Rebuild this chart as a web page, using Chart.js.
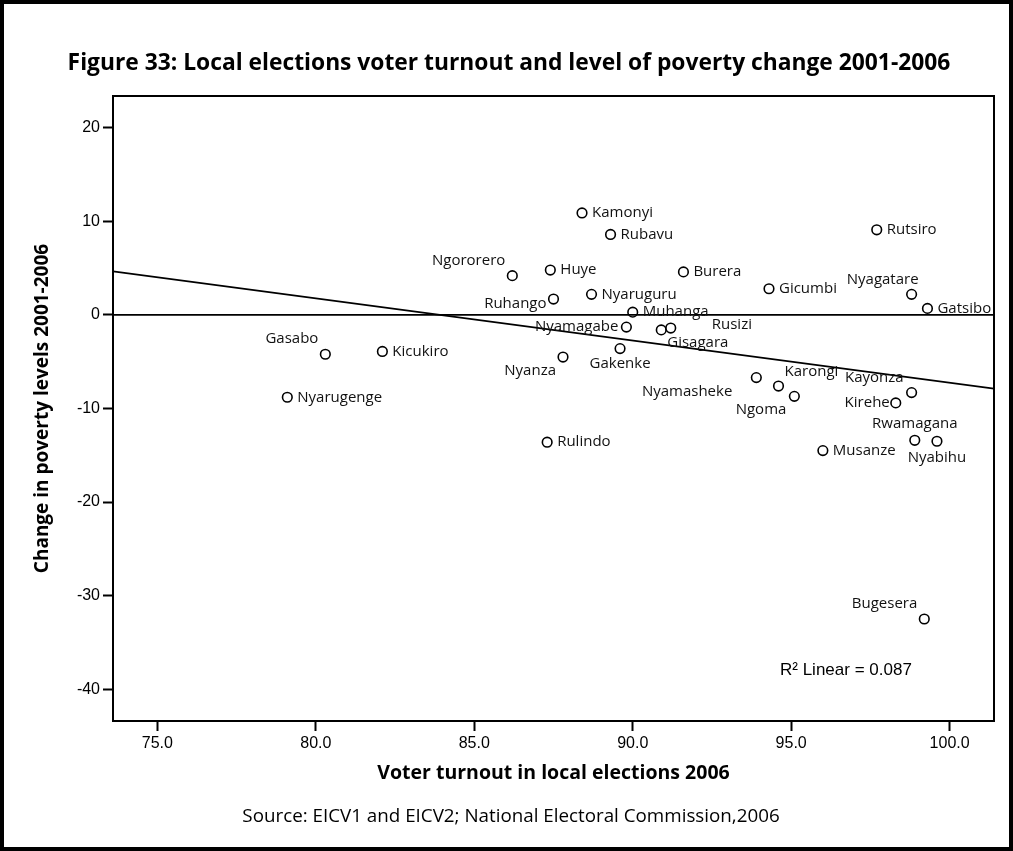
<!DOCTYPE html>
<html lang="en">
<head>
<meta charset="UTF-8" />
<title>Voter turnout and poverty change 2001-2006</title>
<script src="https://cdn.jsdelivr.net/npm/chart.js"></script>
<style>
  html, body { margin: 0; padding: 0; background: #fff; }
  #wrap { width: 1013px; height: 851px; }
</style>
</head>
<body>
<div id="wrap"><canvas id="scatter" width="1013" height="851"></canvas></div>

<script>
  // --- data ---
  const districts = [
    "Gasabo", "Kicukiro", "Nyarugenge", "Kamonyi", "Rubavu", "Ngororero",
    "Huye", "Burera", "Ruhango", "Nyaruguru", "Muhanga", "Nyamagabe",
    "Gisagara", "Rusizi", "Gakenke", "Nyanza", "Nyamasheke", "Ngoma",
    "Rutsiro", "Gicumbi", "Nyagatare", "Gatsibo", "Karongi", "Kayonza",
    "Kirehe", "Rwamagana", "Nyabihu", "Musanze", "Rulindo", "Bugesera"
  ];
  const turnout = [
    80.3, 82.1, 79.1, 88.4, 89.3, 86.2,
    87.4, 91.6, 87.5, 88.7, 90.0, 89.8,
    90.9, 91.2, 89.6, 87.8, 93.9, 95.1,
    97.7, 94.3, 98.8, 99.3, 94.6, 98.8,
    98.3, 98.9, 99.6, 96.0, 87.3, 99.2
  ];
  const povertyChange = [
    -4.2, -3.9, -8.8, 10.9, 8.6, 4.2,
    4.8, 4.6, 1.7, 2.2, 0.3, -1.3,
    -1.6, -1.4, -3.6, -4.5, -6.7, -8.7,
    9.1, 2.8, 2.2, 0.7, -7.6, -8.3,
    -9.4, -13.4, -13.5, -14.5, -13.6, -32.5
  ];
  const xTicks = [75, 80, 85, 90, 95, 100];
  const yTicks = [-40, -30, -20, -10, 0, 10, 20];
  const rSquaredText = "R\u00b2 Linear = 0.087";

  const X_MIN = 73.6, X_MAX = 101.4;
  const Y_MIN = -43.4, Y_MAX = 23.4;

  // where each name sits next to its marker: [dx, dy, align]; default is to the right
  const labelPlace = {
    Gasabo: [-7, -15, "right"],
    Ngororero: [-7, -15, "right"],
    Ruhango: [-7, 5, "right"],
    Nyamagabe: [-8, 0, "right"],
    Gisagara: [6, 13, "left"],
    Rusizi: [41, -3, "left"],
    Gakenke: [0, 15, "center"],
    Nyanza: [-7, 14, "right"],
    Nyamasheke: [-24, 14, "right"],
    Ngoma: [-8, 13, "right"],
    Nyagatare: [7, -15, "right"],
    Karongi: [6, -14, "left"],
    Kayonza: [-8, -15, "right"],
    Kirehe: [-6, 0, "right"],
    Rwamagana: [0, -17, "center"],
    Nyabihu: [0, 16, "center"],
    Bugesera: [-7, -15, "right"]
  };

  // least squares line through the points
  function linearFit(xs, ys) {
    const n = xs.length;
    const mx = xs.reduce((a, b) => a + b, 0) / n;
    const my = ys.reduce((a, b) => a + b, 0) / n;
    let sxy = 0, sxx = 0;
    for (let i = 0; i < n; i++) {
      sxy += (xs[i] - mx) * (ys[i] - my);
      sxx += (xs[i] - mx) * (xs[i] - mx);
    }
    const slope = sxy / sxx;
    return { slope: slope, intercept: my - slope * mx };
  }
  const fit = linearFit(turnout, povertyChange);

  const points = turnout.map((x, i) => ({ x: x, y: povertyChange[i] }));

  const SANS = "'Open Sans', 'DejaVu Sans', sans-serif";
  const ARIAL = "'Liberation Sans', Arial, sans-serif";

  // labels, box, frame and free texts
  const decorations = {
    id: "decorations",
    afterDatasetsDraw(chart) {
      const ctx = chart.ctx;
      const meta = chart.getDatasetMeta(2);
      ctx.save();
      ctx.font = "15px " + SANS;
      ctx.fillStyle = "#111";
      ctx.textBaseline = "middle";
      meta.data.forEach((pt, i) => {
        const name = districts[i];
        const p = labelPlace[name] || [10, 0, "left"];
        ctx.textAlign = p[2];
        ctx.fillText(name, pt.x + p[0], pt.y + p[1]);
      });
      ctx.restore();
    },
    afterDraw(chart) {
      const { ctx, chartArea: a } = chart;
      ctx.save();
      ctx.strokeStyle = "#000";
      ctx.lineWidth = 2;
      ctx.strokeRect(a.left, a.top, a.right - a.left, a.bottom - a.top);
      ctx.lineWidth = 4;
      ctx.strokeRect(2, 2, chart.width - 4, chart.height - 4);

      ctx.fillStyle = "#000";
      ctx.textBaseline = "middle";
      ctx.textAlign = "center";
      ctx.font = "bold 22.8px " + SANS;
      ctx.fillText("Figure 33: Local elections voter turnout and level of poverty change 2001-2006", 509, 64);

      ctx.font = "18.8px " + SANS;
      ctx.fillText("Source: EICV1 and EICV2; National Electoral Commission,2006", 511, 817);

      ctx.textAlign = "left";
      ctx.font = "17px " + ARIAL;
      ctx.fillText(rSquaredText, a.right - 214, a.bottom - 51);
      ctx.restore();
    }
  };

  new Chart(document.getElementById("scatter"), {
    type: "scatter",
    data: {
      datasets: [
        {
          type: "line",
          data: [
            { x: X_MIN, y: fit.intercept + fit.slope * X_MIN },
            { x: X_MAX, y: fit.intercept + fit.slope * X_MAX }
          ],
          borderColor: "#000",
          borderWidth: 1.6,
          pointRadius: 0,
          showLine: true
        },
        {
          type: "line",
          data: [{ x: X_MIN, y: 0 }, { x: X_MAX, y: 0 }],
          borderColor: "#000",
          borderWidth: 1.8,
          pointRadius: 0,
          showLine: true
        },
        {
          data: points,
          pointStyle: "circle",
          pointRadius: 4.8,
          pointBorderWidth: 1.6,
          pointBackgroundColor: "#fff",
          pointBorderColor: "#000"
        }
      ]
    },
    options: {
      responsive: false,
      animation: false,
      devicePixelRatio: 1,
      layout: { padding: { top: 96, right: 19, bottom: 50, left: 0 } },
      plugins: {
        legend: { display: false },
        tooltip: { enabled: false }
      },
      scales: {
        x: {
          type: "linear",
          min: X_MIN,
          max: X_MAX,
          afterBuildTicks: (s) => { s.ticks = xTicks.map((v) => ({ value: v })); },
          afterFit: (s) => { s.height = 80; },
          ticks: {
            color: "#000",
            padding: 3,
            font: { family: ARIAL, size: 16 },
            callback: (v) => Number(v).toFixed(1)
          },
          grid: { drawOnChartArea: false, tickLength: 10, tickWidth: 2, tickColor: "#000" },
          border: { color: "#000", width: 2 },
          title: {
            display: true,
            text: "Voter turnout in local elections 2006",
            color: "#000",
            font: { family: SANS, size: 19.5, weight: "bold" },
            padding: { top: 0, bottom: 16.3 }
          }
        },
        y: {
          type: "linear",
          min: Y_MIN,
          max: Y_MAX,
          afterBuildTicks: (s) => { s.ticks = yTicks.map((v) => ({ value: v })); },
          afterFit: (s) => { s.width = 113; },
          ticks: {
            color: "#000",
            padding: 3,
            font: { family: ARIAL, size: 16 }
          },
          grid: { drawOnChartArea: false, tickLength: 10, tickWidth: 2, tickColor: "#000" },
          border: { color: "#000", width: 2 },
          title: {
            display: true,
            text: "Change in poverty levels 2001-2006",
            color: "#000",
            font: { family: SANS, size: 19, weight: "bold" },
            padding: { top: 31.6, bottom: 0 }
          }
        }
      }
    },
    plugins: [decorations]
  });
</script>
</body>
</html>
